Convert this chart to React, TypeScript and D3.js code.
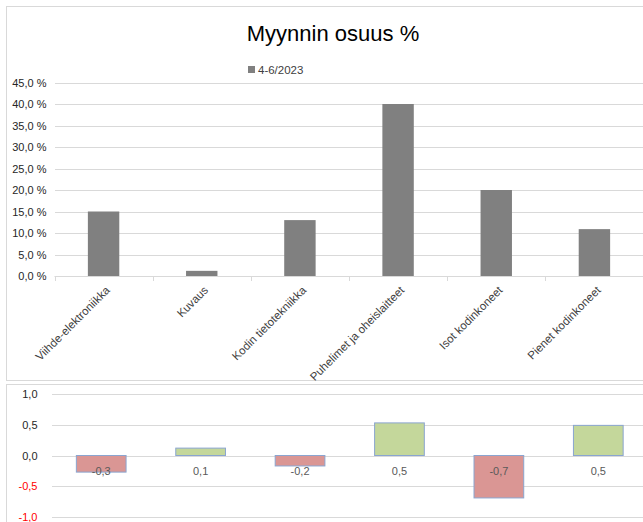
import {useEffect, useRef} from "react";
import * as d3 from 'd3';

const categories = [
  "Viihde-elektroniikka",
  "Kuvaus",
  "Kodin tietotekniikka",
  "Puhelimet ja oheislaitteet",
  "Isot kodinkoneet",
  "Pienet kodinkoneet",
];
const seriesName = "4-6/2023";
const shares = [15.0, 1.2, 13.0, 40.0, 20.0, 10.9];
const changes = [-0.27, 0.12, -0.17, 0.53, -0.69, 0.49];
const shareTicks = [0, 5, 10, 15, 20, 25, 30, 35, 40, 45];
const changeTicks = [-1, -0.5, 0, 0.5, 1];

const W = 643;
const H = 522;
const FONT = "Liberation Sans, Arial, sans-serif";

const fmtShare = (v: number) => d3.format(".1f")(v).replace(".", ",") + " %";
const fmtChange = (v: number) => d3.format(".1f")(v).replace(".", ",").replace("−", "-");

export default function App() {
  const svgRef = useRef<SVGSVGElement>(null);

  useEffect(() => {
    const svg = d3.select(svgRef.current);
    svg.selectAll('*').remove();
    svg.attr('width', W).attr('height', H);

    svg.append('rect').attr('width', W).attr('height', H).attr('fill', '#fff');

    // chart frames
    svg.append('rect').attr('x', 6.5).attr('y', 6.5).attr('width', 660).attr('height', 374)
      .attr('fill', 'none').attr('stroke', '#d9d9d9');
    svg.append('rect').attr('x', 6.5).attr('y', 384.5).attr('width', 660).attr('height', 160)
      .attr('fill', 'none').attr('stroke', '#d9d9d9');

    // ---- top chart ----
    const x = d3.scaleBand<string>().domain(categories).range([54.5, 643.5]).paddingInner(0.68).paddingOuter(0.34);
    const xb = d3.scaleBand<string>().domain(categories).range([54.5, 643.5]);
    const y = d3.scaleLinear().domain([0, 45]).range([276, 82.5]);

    const top = svg.append('g');

    top.append('text').attr('x', 333).attr('y', 41).attr('text-anchor', 'middle')
      .attr('font-family', FONT).attr('font-size', 22).attr('fill', '#000')
      .text("Myynnin osuus %");

    top.append('rect').attr('x', 248).attr('y', 66).attr('width', 7).attr('height', 7).attr('fill', '#808080');
    top.append('text').attr('x', 258).attr('y', 73.5)
      .attr('font-family', FONT).attr('font-size', 11.5).attr('fill', '#404040')
      .text(seriesName);

    const yAxis = d3.axisLeft(y).tickValues(shareTicks).tickSize(-(643.5 - 54.5)).tickFormat(d => fmtShare(+d));
    const gy = top.append('g').attr('transform', 'translate(54.5,0)').call(yAxis);
    gy.select('.domain').remove();
    gy.selectAll('.tick line').attr('stroke', '#d9d9d9').attr('shape-rendering', 'crispEdges');
    gy.selectAll('.tick text').attr('x', -8).attr('font-family', FONT).attr('font-size', 11).attr('fill', '#262626');

    top.selectAll('rect.bar').data(shares).join('rect').attr('class', 'bar')
      .attr('x', (_, i) => x(categories[i])!)
      .attr('width', x.bandwidth())
      .attr('y', d => y(d))
      .attr('height', d => y(0) - y(d))
      .attr('fill', '#808080');

    // axis line and ticks
    top.append('line').attr('x1', 54.5).attr('x2', 643.5).attr('y1', 276.5).attr('y2', 276.5)
      .attr('stroke', '#d9d9d9');
    top.selectAll('line.xt').data(categories).join('line').attr('class', 'xt')
      .attr('x1', d => Math.round(xb(d)!) + 0.5).attr('x2', d => Math.round(xb(d)!) + 0.5)
      .attr('y1', 276).attr('y2', 281).attr('stroke', '#d9d9d9');

    top.selectAll('text.xl').data(categories).join('text').attr('class', 'xl')
      .attr('transform', d => `translate(${xb(d)! + xb.bandwidth() / 2 + 7},${291}) rotate(-45)`)
      .attr('text-anchor', 'end')
      .attr('font-family', FONT).attr('font-size', 11.5).attr('fill', '#404040')
      .text(d => d);

    // ---- bottom chart ----
    const x2 = d3.scaleBand<string>().domain(categories).range([51.5, 648]).paddingInner(0.5).paddingOuter(0.25);
    const y2 = d3.scaleLinear().domain([-1, 1]).range([517, 394]);
    const bot = svg.append('g');

    const yAxis2 = d3.axisLeft(y2).tickValues(changeTicks).tickSize(-(650 - 51.5)).tickFormat(d => fmtChange(+d));
    const gy2 = bot.append('g').attr('transform', 'translate(51.5,0)').call(yAxis2);
    gy2.select('.domain').remove();
    gy2.selectAll('.tick line').attr('stroke', '#d9d9d9').attr('shape-rendering', 'crispEdges');
    gy2.selectAll('.tick text').attr('x', -14).attr('font-family', FONT).attr('font-size', 11)
      .attr('fill', (d: any) => (d < 0 ? '#ff0000' : '#262626'));

    bot.selectAll('rect.cb').data(changes).join('rect').attr('class', 'cb')
      .attr('x', (_, i) => x2(categories[i])!)
      .attr('width', x2.bandwidth())
      .attr('y', d => y2(Math.max(0, d)))
      .attr('height', d => Math.abs(y2(d) - y2(0)))
      .attr('fill', d => (d < 0 ? '#da9694' : '#c4d79b'))
      .attr('stroke', '#8aa5d0').attr('stroke-width', 1);

    bot.selectAll('text.cl').data(changes).join('text').attr('class', 'cl')
      .attr('x', (_, i) => x2(categories[i])! + x2.bandwidth() / 2)
      .attr('y', y2(0) + 19)
      .attr('text-anchor', 'middle')
      .attr('font-family', FONT).attr('font-size', 11).attr('fill', '#595959')
      .text(d => fmtChange(d));
  }, []);

  return (
    <div style={{position: 'absolute', left: 0, top: 0}}>
      <svg ref={svgRef}></svg>
    </div>
  );
}
